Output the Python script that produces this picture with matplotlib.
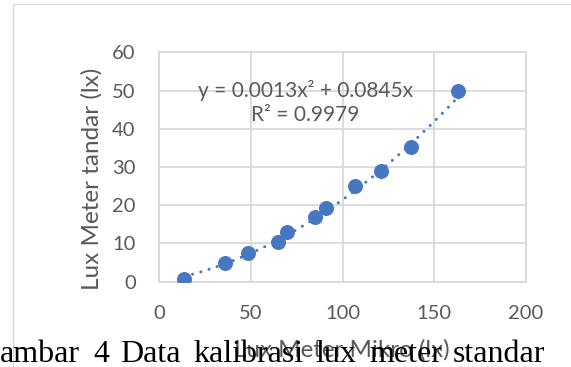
import matplotlib
matplotlib.use("Agg")
import matplotlib.pyplot as plt
import numpy as np
from matplotlib.patches import Rectangle

# Data
x_mikro = [13.6, 35.8, 48.6, 64.8, 69.8, 84.9, 90.9, 106.9, 120.9, 137.2, 163.1]
y_standar = [0.7, 4.8, 7.6, 10.3, 13.1, 17.0, 19.2, 24.9, 29.0, 35.3, 49.9]
trend_coef = [0.0013, 0.0845]  # a*x^2 + b*x
eq_text = "y = 0.0013x² + 0.0845x"
r2_text = "R² = 0.9979"
x_ticks = [0, 50, 100, 150, 200]
y_ticks = [0, 10, 20, 30, 40, 50, 60]
x_label = "Lux Meter Mikro (lx)"
y_label = "Lux Meter tandar (lx)"
caption_words = ["ambar", "4", "Data", "kalibrasi", "lux", "meter", "standar"]
caption_x = [0, 93, 120, 193, 315, 369, 453]

W, H = 571, 367
fig = plt.figure(figsize=(W / 100, H / 100), dpi=100)
fig.patch.set_facecolor("white")

# chart frame
fig.patches.append(Rectangle((12.5 / W, -0.1), 1.2, (H - 4.5) / H + 0.1,
                             transform=fig.transFigure, fill=False,
                             edgecolor="#d9d9d9", linewidth=1.0))

ax = fig.add_axes([159.3 / W, 1 - 281.7 / H, (526 - 159.3) / W, (281.7 - 52.3) / H])
grid_c = "#d9d9d9"
text_c = "#595959"
font = "Lato"

ax.set_xlim(0, 200)
ax.set_ylim(0, 60)
ax.set_xticks(x_ticks)
ax.set_yticks(y_ticks)
ax.grid(True, color=grid_c, linewidth=1.3)
ax.set_axisbelow(True)
for s in ax.spines.values():
    s.set_color(grid_c)
    s.set_linewidth(1.3)
ax.tick_params(length=0, pad=17, colors=text_c, labelsize=14.5)
for lab in ax.get_xticklabels() + ax.get_yticklabels():
    lab.set_fontfamily(font)

# trendline
xt = np.linspace(min(x_mikro), max(x_mikro), 200)
yt = trend_coef[0] * xt ** 2 + trend_coef[1] * xt
ax.plot(xt, yt, color="#4677c0", linewidth=2.2, linestyle=(0, (0.01, 2.8)),
        dash_capstyle="round", zorder=2)
ax.plot(x_mikro, y_standar, "o", color="#4677c0", markersize=10.8,
        markeredgewidth=0, zorder=3)

ax.text(79.5, 50.0, eq_text, ha="center", va="center", fontsize=15,
        color=text_c, fontfamily=font, zorder=4)
ax.text(79.5, 43.5, r2_text, ha="center", va="center", fontsize=15,
        color=text_c, fontfamily=font, zorder=4)

# axis labels
fig.text(342 / W, 1 - 350 / H, x_label, ha="center", va="center",
         fontsize=17.4, color=text_c, fontfamily=font)
fig.text(92 / W, 1 - 179 / H, y_label, ha="center", va="center",
         rotation=90, fontsize=17.5, color=text_c, fontfamily=font)

# caption overlay
for w, xp in zip(caption_words, caption_x):
    fig.text(xp / W, 1 - 361.5 / H, w, ha="left", va="baseline",
             fontsize=23, color="black", fontfamily="Liberation Serif")

fig.savefig("out.png", dpi=100)
